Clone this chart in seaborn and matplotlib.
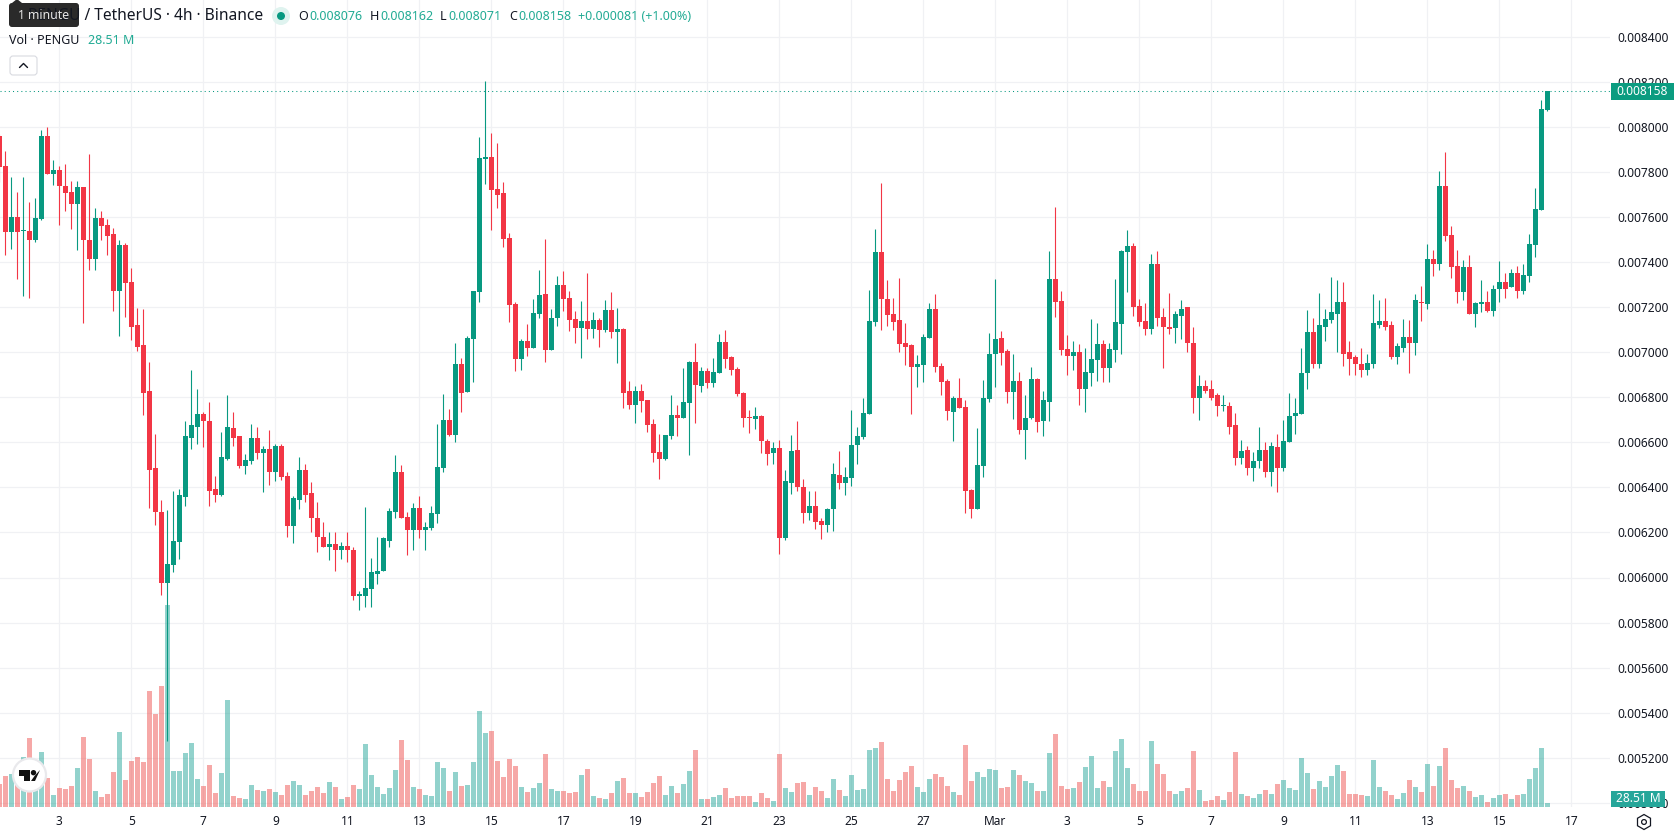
import numpy as np
import matplotlib
matplotlib.use("Agg")
import matplotlib.pyplot as plt
from matplotlib.patches import Circle, FancyBboxPatch, Polygon, Rectangle, RegularPolygon
import seaborn as sns

# PENGU/USDT 4h candles, prices in millionths of a USDT, volume in millions of PENGU
directions = ("R" "RGRGRGGRGR" "RRGRRGRRRG" "RRRRRRRGGG" "GGGRRRGGRR" "GGRGRGRRGG"
              "RRRRGRGRRG" "GGGGGGRRGR" "GGGGRGRGGG" "GRRRRRGRGG" "RGGRRRGRGR"
              "GRGRRGRRRR" "GGRGGRGRGG" "RRRRRGRRGR" "GGRRGRRGGR" "GGGGGGRRRR"
              "RRGGGRRRGR" "RRGGGGRRGR" "GGRGGRRRGR" "GGGRGGGGRR" "RGRRRGGRRG"
              "RRRGRRGRGG" "RGRGGGGGRG" "GGGRRRRGGG" "RRGGRGRGRG" "RRRGRGGRGG"
              "RGRGGGGG")

highs = [7968,
         7895, 7779, 7712, 7779, 7665, 7683, 7988, 8000, 7854, 7825,
         7837, 7761, 7761, 7732, 7882, 7642, 7625, 7591, 7553, 7497,
         7486, 7376, 7195, 7190, 6958, 6639, 6346, 6299, 6386, 6392,
         6697, 6921, 6839, 6734, 6777, 6449, 6648, 6809, 6734, 6627,
         6548, 6683, 6667, 6583, 6653, 6593, 6593, 6470, 6364, 6536,
         6506, 6422, 6334, 6248, 6201, 6201, 6156, 6204, 6137, 5938,
         6315, 6085, 6182, 6182, 6307, 6546, 6501, 6292, 6329, 6364,
         6248, 6319, 6683, 6816, 6750, 7043, 6976, 7073, 7272, 7955,
         8204, 7974, 7930, 7755, 7530, 7223, 7060, 7127, 7238, 7366,
         7503, 7193, 7339, 7361, 7272, 7184, 7228, 7350, 7179, 7153,
         7233, 7268, 7197, 7108, 6873, 6851, 6860, 6788, 6704, 6637,
         6633, 6811, 6766, 6931, 6962, 7042, 6935, 6931, 6975, 7082,
         7099, 6984, 6935, 6824, 6744, 6757, 6722, 6615, 6602, 6611,
         6477, 6633, 6695, 6437, 6384, 6384, 6264, 6309, 6509, 6562,
         6491, 6744, 6669, 6797, 7277, 7548, 7753, 7322, 7242, 7331,
         7131, 7037, 6988, 7082, 7219, 7259, 6953, 6882, 6806, 6886,
         6788, 6393, 6664, 6877, 7086, 7326, 7095, 7015, 6993, 6913,
         6811, 6935, 6886, 6828, 7450, 7646, 7273, 7077, 7051, 7037,
         7020, 7148, 7131, 7055, 7042, 7326, 7455, 7544, 7486, 7237,
         7219, 7437, 7450, 7197, 7261, 7181, 7234, 7199, 7110, 6901,
         6875, 6875, 6817, 6812, 6781, 6732, 6612, 6586, 6555, 6670,
         6603, 6603, 6635, 6701, 6817, 6799, 7021, 7186, 7154, 7261,
         7194, 7332, 7319, 7310, 7048, 6990, 7017, 6994, 7257, 7234,
         7243, 7137, 7039, 7146, 7141, 7257, 7292, 7479, 7452, 7803,
         7888, 7559, 7452, 7408, 7430, 7221, 7319, 7274, 7297, 7403,
         7350, 7368, 7381, 7394, 7523, 7728, 8119, 8162]

lows = [7758,
        7430, 7460, 7323, 7248, 7242, 7491, 7588, 7793, 7744, 7567,
        7628, 7549, 7456, 7132, 7363, 7367, 7497, 7433, 7181, 7074,
        7158, 7055, 7004, 6720, 6307, 6232, 5921, 5275, 6023, 6081,
        6316, 6572, 6592, 6578, 6316, 6337, 6362, 6520, 6586, 6488,
        6458, 6504, 6528, 6378, 6409, 6427, 6435, 6178, 6152, 6302,
        6337, 6204, 6112, 6134, 6076, 6027, 6080, 6068, 5898, 5854,
        5868, 5871, 5970, 6027, 6134, 6262, 6262, 6098, 6120, 6174,
        6120, 6213, 6240, 6470, 6630, 6600, 6733, 6824, 6866, 7223,
        7747, 7543, 7641, 7467, 7135, 6918, 6923, 6984, 7021, 7154,
        6957, 7011, 7117, 7184, 7095, 7043, 6976, 7060, 7064, 7024,
        7091, 7064, 6953, 6753, 6748, 6686, 6735, 6646, 6513, 6437,
        6522, 6615, 6629, 6708, 6544, 6686, 6824, 6842, 6846, 6908,
        6931, 6900, 6806, 6669, 6642, 6660, 6553, 6500, 6504, 6104,
        6166, 6371, 6384, 6242, 6255, 6215, 6171, 6202, 6206, 6393,
        6366, 6406, 6504, 6615, 6726, 7117, 7099, 7117, 7099, 7002,
        6944, 6726, 6846, 6868, 7064, 6913, 6811, 6700, 6606, 6753,
        6286, 6264, 6304, 6446, 6780, 6846, 6944, 6775, 6704, 6637,
        6526, 6704, 6646, 6629, 6695, 7157, 6988, 6900, 6922, 6766,
        6735, 6851, 6873, 6868, 6868, 6957, 6993, 7268, 7162, 7117,
        7077, 7082, 7117, 6931, 7083, 7043, 7057, 6999, 6732, 6701,
        6817, 6786, 6719, 6737, 6639, 6501, 6506, 6457, 6430, 6484,
        6448, 6404, 6381, 6475, 6603, 6639, 6728, 6839, 6928, 6932,
        7052, 7132, 6999, 6941, 6901, 6897, 6892, 6901, 6932, 7106,
        7097, 6972, 6950, 6999, 6910, 6990, 7137, 7194, 7337, 7363,
        7492, 7328, 7217, 7234, 7168, 7114, 7177, 7177, 7163, 7221,
        7239, 7288, 7239, 7257, 7314, 7421, 7630, 8071]

body_tops = [7958,
             7825, 7602, 7602, 7540, 7540, 7598, 7958, 7958, 7811, 7811,
             7740, 7712, 7732, 7732, 7500, 7598, 7598, 7567, 7523, 7477,
             7477, 7314, 7120, 7030, 6827, 6485, 6293, 6058, 6160, 6365,
             6627, 6676, 6728, 6728, 6697, 6392, 6534, 6667, 6662, 6627,
             6520, 6621, 6621, 6572, 6572, 6583, 6583, 6449, 6351, 6479,
             6479, 6373, 6262, 6182, 6147, 6147, 6142, 6142, 6120, 5925,
             5952, 6023, 6031, 6174, 6297, 6467, 6467, 6267, 6307, 6307,
             6223, 6285, 6489, 6701, 6701, 6949, 6949, 7065, 7272, 7863,
             7868, 7866, 7725, 7708, 7508, 7215, 7051, 7051, 7176, 7255,
             7260, 7154, 7299, 7299, 7242, 7149, 7139, 7139, 7144, 7144,
             7188, 7188, 7104, 7104, 6828, 6828, 6828, 6788, 6682, 6557,
             6633, 6722, 6722, 6780, 6957, 6957, 6917, 6917, 6913, 7046,
             7046, 6980, 6926, 6820, 6713, 6717, 6717, 6606, 6575, 6575,
             6429, 6562, 6566, 6402, 6318, 6318, 6251, 6304, 6460, 6455,
             6446, 6589, 6629, 6731, 7139, 7446, 7446, 7237, 7171, 7144,
             7042, 7033, 6948, 7068, 7193, 7193, 6940, 6873, 6797, 6797,
             6757, 6389, 6500, 6797, 6993, 7059, 7064, 7006, 6873, 6873,
             6708, 6882, 6882, 6788, 7326, 7326, 7228, 7015, 7002, 7002,
             6913, 6971, 7037, 7037, 7015, 7135, 7450, 7473, 7473, 7206,
             7139, 7393, 7393, 7157, 7114, 7168, 7194, 7199, 7043, 6852,
             6852, 6835, 6808, 6768, 6763, 6675, 6563, 6568, 6519, 6568,
             6568, 6586, 6581, 6608, 6719, 6732, 6910, 7092, 7092, 7119,
             7146, 7177, 7221, 7221, 6999, 6977, 6946, 6954, 7128, 7137,
             7137, 7119, 7026, 7066, 7066, 7230, 7225, 7412, 7412, 7736,
             7736, 7519, 7381, 7377, 7377, 7217, 7221, 7221, 7283, 7314,
             7314, 7354, 7354, 7341, 7479, 7634, 8079, 8158]

body_bottoms = [7821,
                7535, 7535, 7532, 7537, 7500, 7500, 7591, 7793, 7793, 7740,
                7709, 7656, 7656, 7497, 7416, 7416, 7561, 7518, 7270, 7270,
                7309, 7114, 7025, 6821, 6479, 6290, 5974, 5974, 6055, 6157,
                6357, 6621, 6670, 6693, 6386, 6365, 6365, 6528, 6618, 6493,
                6493, 6516, 6551, 6551, 6470, 6470, 6444, 6227, 6227, 6342,
                6368, 6262, 6178, 6134, 6137, 6120, 6120, 6120, 5916, 5920,
                5920, 5947, 6014, 6027, 6164, 6289, 6262, 6213, 6213, 6209,
                6209, 6218, 6280, 6484, 6634, 6634, 6821, 6824, 7060, 7268,
                7858, 7720, 7698, 7503, 7211, 6972, 6972, 7021, 7021, 7171,
                7011, 7011, 7154, 7238, 7144, 7109, 7109, 7105, 7104, 7099,
                7099, 7091, 7091, 6820, 6766, 6766, 6784, 6677, 6553, 6526,
                6526, 6629, 6708, 6708, 6775, 6855, 6851, 6864, 6864, 6908,
                6971, 6922, 6815, 6708, 6708, 6704, 6606, 6549, 6553, 6175,
                6175, 6420, 6402, 6286, 6286, 6246, 6233, 6233, 6304, 6420,
                6420, 6442, 6589, 6624, 6726, 7135, 7237, 7166, 7135, 7037,
                7024, 6935, 6935, 6944, 7064, 6935, 6868, 6740, 6735, 6753,
                6384, 6304, 6304, 6495, 6793, 6993, 6997, 6824, 6824, 6655,
                6655, 6708, 6691, 6695, 6780, 7224, 7011, 6984, 6984, 6837,
                6837, 6908, 6966, 6931, 6931, 7011, 7126, 7446, 7202, 7135,
                7104, 7104, 7153, 7113, 7101, 7106, 7163, 7039, 6795, 6795,
                6830, 6799, 6763, 6763, 6670, 6532, 6532, 6488, 6484, 6515,
                6470, 6470, 6488, 6488, 6603, 6715, 6728, 6906, 6946, 6946,
                7114, 7141, 7172, 6994, 6972, 6946, 6923, 6923, 6950, 7119,
                7110, 6981, 6977, 7017, 7043, 7043, 7217, 7212, 7390, 7390,
                7514, 7377, 7266, 7266, 7172, 7172, 7212, 7181, 7181, 7279,
                7283, 7288, 7274, 7274, 7337, 7474, 7630, 8076]

volumes = [164,
           221, 235, 214, 356, 492, 285, 392, 207, 86, 135,
           128, 150, 278, 499, 342, 114, 71, 93, 250, 535,
           193, 328, 356, 321, 827, 663, 863, 1440, 257, 257,
           385, 456, 200, 150, 299, 100, 242, 763, 78, 64,
           57, 157, 121, 114, 128, 107, 86, 157, 185, 157,
           86, 114, 143, 100, 178, 143, 57, 71, 157, 128,
           449, 228, 143, 93, 135, 264, 478, 335, 143, 128,
           86, 78, 321, 278, 114, 250, 150, 157, 321, 684,
           528, 542, 328, 214, 342, 292, 143, 107, 135, 171,
           378, 128, 114, 114, 100, 107, 228, 271, 78, 64,
           57, 100, 185, 207, 100, 100, 71, 107, 171, 221,
           86, 150, 100, 164, 257, 406, 57, 57, 71, 86,
           135, 64, 78, 78, 78, 36, 100, 64, 43, 378,
           135, 107, 171, 178, 86, 143, 114, 64, 200, 121,
           78, 228, 121, 128, 406, 421, 463, 200, 114, 193,
           250, 292, 143, 107, 200, 235, 214, 150, 107, 86,
           442, 185, 250, 214, 271, 264, 135, 143, 264, 228,
           185, 171, 114, 114, 385, 520, 150, 128, 135, 178,
           285, 364, 135, 185, 143, 399, 485, 278, 164, 114,
           114, 471, 307, 235, 114, 93, 114, 135, 399, 121,
           43, 50, 78, 50, 107, 392, 93, 78, 64, 93,
           121, 93, 164, 193, 135, 121, 349, 242, 128, 185,
           143, 221, 299, 257, 93, 93, 86, 78, 335, 143,
           114, 86, 57, 100, 193, 143, 107, 307, 150, 292,
           421, 193, 135, 150, 114, 71, 86, 36, 64, 86,
           93, 57, 86, 93, 200, 278, 421, 28.51]

price_ticks = [0.0050, 0.0052, 0.0054, 0.0056, 0.0058, 0.0060, 0.0062, 0.0064, 0.0066,
               0.0068, 0.0070, 0.0072, 0.0074, 0.0076, 0.0078, 0.0080, 0.0082, 0.0084]
date_labels = ["3", "5", "7", "9", "11", "13", "15", "17", "19", "21", "23", "25", "27",
               "Mar", "3", "5", "7", "9", "11", "13", "15", "17"]
first_date_candle = 9
candles_per_label = 12

GREEN = "#089981"
RED = "#f23645"
GRID = "#f0f1f4"
INK = "#131722"
TAG_GREEN = "#0b9c80"
TAG_VOLUME = "#26a69a"
TEXT_GREEN = "#22ab94"

sns.set_theme(style="white")
plt.rcParams["font.family"] = ["Noto Sans", "DejaVu Sans"]

W, H = 1678, 835
PLOT_RIGHT, PLOT_BOTTOM = 1610, 807
fig = plt.figure(figsize=(W / 100, H / 100), dpi=100, facecolor="white")
rect = [0, 1 - PLOT_BOTTOM / H, PLOT_RIGHT / W, PLOT_BOTTOM / H]

index = np.arange(-1, len(highs) - 1)
is_up = np.array([d == "G" for d in directions])
highs_p = np.array(highs) * 1e-6
lows_p = np.array(lows) * 1e-6
tops_p = np.array(body_tops) * 1e-6
bottoms_p = np.array(body_bottoms) * 1e-6
last_close = body_tops[-1] * 1e-6

# Price scale: 45.05 px per 0.0002, candle spacing 6 px
x_limits = (-5.33 / 6, (PLOT_RIGHT - 5.33) / 6)
y_limits = (0.008 - 680 * 0.0002 / 45.05, 0.008 + 127 * 0.0002 / 45.05)
date_ticks = [first_date_candle + i * candles_per_label for i in range(len(date_labels))]

# Grid and axis labels sit on the lowest layer
ax_back = fig.add_axes(rect, zorder=0)
ax_back.set_xlim(x_limits)
ax_back.set_ylim(y_limits)
ax_back.set_yticks(price_ticks, [f"{t:.6f}" for t in price_ticks])
ax_back.set_xticks(date_ticks, date_labels)
ax_back.yaxis.tick_right()
ax_back.grid(True, color=GRID, linewidth=0.9)
ax_back.tick_params(axis="y", length=0, pad=5.5, labelsize=8.6, labelcolor=INK)
ax_back.tick_params(axis="x", length=0, pad=6, labelsize=8.6, labelcolor=INK)
for label in ax_back.get_xticklabels():
    if label.get_text() == "Mar":
        label.set_fontweight("bold")
sns.despine(ax=ax_back, left=True, right=True, top=True, bottom=True)

# Volume histogram along the bottom
ax_vol = fig.add_axes(rect, zorder=1)
ax_vol.patch.set_alpha(0)
sns.barplot(x=index, y=volumes, hue=list(directions), palette={"G": "#26a69a", "R": "#ef5350"},
            native_scale=True, dodge=False, width=0.8, saturation=1, alpha=0.5, linewidth=0,
            legend=False, ax=ax_vol)
ax_vol.set_xlim(x_limits)
ax_vol.set_ylim(0, PLOT_BOTTOM * 7.13)
ax_vol.axis("off")

# Candles: one-pixel wicks and five-pixel bodies
ax_main = fig.add_axes(rect, zorder=2)
ax_main.patch.set_alpha(0)
colors = np.where(is_up, GREEN, RED)
ax_main.vlines(index, lows_p, highs_p, colors=colors, linewidth=0.8)
ax_main.bar(index, np.maximum(tops_p - bottoms_p, 4e-6), bottom=bottoms_p, width=0.82,
            color=colors, linewidth=0)
ax_main.axhline(last_close, color=GREEN, linewidth=0.75, linestyle=(0, (1, 3)))
ax_main.set_xlim(x_limits)
ax_main.set_ylim(y_limits)
ax_main.axis("off")

# Header, tags and widgets, placed in screen pixels
ui = fig.add_axes([0, 0, 1, 1], zorder=3)
ui.set_xlim(0, W)
ui.set_ylim(H, 0)
ui.axis("off")
ui.patch.set_alpha(0)

ui.text(263, 15.5, "PENGU / TetherUS · 4h · Binance", fontsize=11.2, color=INK, va="center", ha="right")
ui.add_patch(Circle((281, 16), 9, color="#dff3ef", lw=0))
ui.add_patch(Circle((281, 16), 4, color=GREEN, lw=0))

ohlc_parts = [(298, "O", INK), (309, "0.008076", TEXT_GREEN), (370, "H", INK), (380, "0.008162", TEXT_GREEN),
              (440, "L", INK), (448, "0.008071", TEXT_GREEN), (509, "C", INK), (518, "0.008158", TEXT_GREEN),
              (578, "+0.000081 (+1.00%)", TEXT_GREEN)]
for x, s, c in ohlc_parts:
    ui.text(x, 16, s, fontsize=9.0, color=c, va="center", ha="left")

ui.text(9, 40, "Vol · PENGU", fontsize=9.0, color=INK, va="center", ha="left")
ui.text(88, 40, "28.51 M", fontsize=9.0, color=TEXT_GREEN, va="center", ha="left")

ui.add_patch(FancyBboxPatch((10, 56), 27, 19, boxstyle="round,pad=0,rounding_size=3",
                            fc="white", ec="#d8dae0", lw=0.8))
ui.plot([19.5, 23.5, 27.5], [67.5, 63.5, 67.5], color=INK, lw=1)

ui.add_patch(FancyBboxPatch((9, 3), 70, 24, boxstyle="round,pad=0,rounding_size=3",
                            fc="#2a2a2a", ec="none"))
ui.add_patch(Polygon([[12, 3], [17, -1], [22, 3]], fc="#2a2a2a", ec="none"))
ui.text(44, 15.5, "1 minute", fontsize=8.8, color="#e6e6e6", va="center", ha="center")

ui.add_patch(Rectangle((1611, 83), 63, 17, fc=TAG_GREEN, ec="none"))
ui.text(1642.5, 91.5, "0.008158", fontsize=8.6, color="white", va="center", ha="center")
ui.add_patch(Rectangle((1611, 791), 54, 16, fc=TAG_VOLUME, ec="none"))
ui.text(1638, 799, "28.51 M", fontsize=8.6, color="white", va="center", ha="center")

# Logo badge
ui.add_patch(Circle((29.5, 775), 16.5, fc="white", ec="#e9e9ec", lw=1.6))
ui.add_patch(Polygon([[19.3, 770], [30, 770], [30, 781], [24.3, 781], [24.3, 775.7], [19.3, 775.7]],
                     fc="#111111", ec="none"))
ui.add_patch(Circle((33.5, 772.7), 2.7, fc="#111111", ec="none"))
ui.add_patch(Polygon([[35, 781], [40, 770], [34.5, 776], [31, 781]], fc="#111111", ec="none"))

# Settings glyph next to the time axis
ui.add_patch(RegularPolygon((1644, 822), 6, radius=7.5, fc="white", ec=INK, lw=0.9))
ui.add_patch(Circle((1644, 822), 2.4, fc="white", ec=INK, lw=0.9))

fig.savefig("out.png", dpi=100)
